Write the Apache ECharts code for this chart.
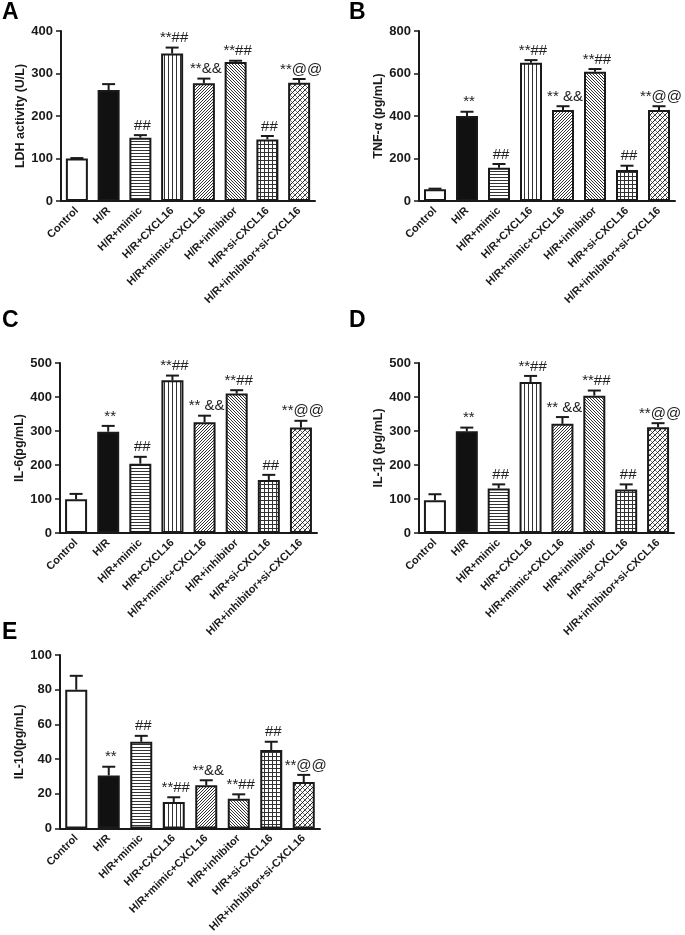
<!DOCTYPE html>
<html><head><meta charset="utf-8">
<script src="https://cdn.jsdelivr.net/npm/echarts@6/dist/echarts.min.js"></script>
<style>html,body{margin:0;padding:0;background:#fff}#c{width:685px;height:935px}</style>
</head><body><div id="c"></div>
<script>
const categories = ['Control','H/R','H/R+mimic','H/R+CXCL16','H/R+mimic+CXCL16','H/R+inhibitor','H/R+si-CXCL16','H/R+inhibitor+si-CXCL16'];

const ldhMean = [100, 261, 149, 347, 277, 327, 145, 278];
const ldhErr  = [1, 14, 6, 14, 11, 3, 8, 9];
const ldhMarks = ['', '', '##', '**##', '**&&', '**##', '##', '**@@'];

const tnfMean = [55, 400, 157, 651, 428, 608, 146, 428];
const tnfErr  = [3, 20, 17, 12, 18, 13, 20, 18];
const tnfMarks = ['', '**', '##', '**##', '** &&', '**##', '##', '**@@'];

const il6Mean = [99, 298, 204, 449, 326, 410, 156, 310];
const il6Err  = [16, 17, 20, 14, 19, 10, 15, 20];
const il6Marks = ['', '**', '##', '**##', '** &&', '**##', '##', '**@@'];

const il1bMean = [96, 299, 131, 444, 321, 404, 128, 311];
const il1bErr  = [18, 11, 12, 18, 20, 15, 15, 12];
const il1bMarks = ['', '**', '##', '**##', '** &&', '**##', '##', '**@@'];

const il10Mean = [80, 30.6, 50, 15.3, 24.9, 17.2, 45.2, 26.8];
const il10Err  = [8, 5, 3.4, 2.7, 2.9, 2.5, 4.8, 4.1];
const il10Marks = ['', '**', '##', '**##', '**&&', '**##', '##', '**@@'];

const panelNames = ['LDH activity (U/L)', 'TNF-\u03b1 (pg/mL)', 'IL-6(pg/mL)', 'IL-1\u03b2 (pg/mL)', 'IL-10(pg/mL)'];
const panelLetters = ['A', 'B', 'C', 'D', 'E'];
const yMax = [400, 800, 500, 500, 100];
const yInterval = [100, 200, 100, 100, 20];

const panels = [
  {mean: ldhMean, err: ldhErr, marks: ldhMarks},
  {mean: tnfMean, err: tnfErr, marks: tnfMarks},
  {mean: il6Mean, err: il6Err, marks: il6Marks},
  {mean: il1bMean, err: il1bErr, marks: il1bMarks},
  {mean: il10Mean, err: il10Err, marks: il10Marks}
];

// layout (pixels)
const grids = [
  {left: 61, top: 31, width: 254, height: 170},
  {left: 419, top: 31, width: 256, height: 170},
  {left: 60, top: 363, width: 257, height: 170},
  {left: 419, top: 363, width: 255, height: 170},
  {left: 60, top: 655, width: 260, height: 174}
];
const letterPos = [[2, 1], [349, 1], [2, 309], [349, 309], [2, 621]];

const FONT = "'Liberation Sans', Arial, sans-serif";
const INK = '#1a1a1a';

function pat(w, h, draw) {
  const c = document.createElement('canvas');
  c.width = w; c.height = h;
  const g = c.getContext('2d');
  g.fillStyle = '#fff'; g.fillRect(0, 0, w, h);
  draw(g);
  return {image: c, repeat: 'repeat'};
}
function px(g, pts, col) { g.fillStyle = col || '#333'; pts.forEach(p => g.fillRect(p[0], p[1], 1, 1)); }

const fills = [
  '#ffffff',
  '#111111',
  pat(4, 3, g => { g.fillStyle = '#333'; g.fillRect(0, 0, 4, 1); }),
  pat(4, 4, g => { g.fillStyle = '#333'; g.fillRect(0, 0, 1, 4); }),
  pat(3, 3, g => px(g, [[2,0],[1,1],[0,2]])),
  pat(3, 3, g => px(g, [[0,0],[1,1],[2,2]])),
  pat(4, 4, g => { g.fillStyle = '#333'; g.fillRect(0, 0, 4, 1); g.fillRect(0, 0, 1, 4); }),
  pat(5, 5, g => { px(g, [[4,0],[3,1],[2,2],[1,3],[0,4]], '#222'); px(g, [[0,0],[1,1],[3,3],[4,4]], '#777'); })
];

const option = {
  animation: false,
  backgroundColor: '#fff',
  textStyle: {fontFamily: FONT},
  grid: grids.map(g => Object.assign({containLabel: false}, g)),
  xAxis: grids.map((g, i) => ({
    type: 'category', gridIndex: i, data: categories,
    axisLine: {lineStyle: {color: INK, width: 2}},
    axisTick: {alignWithLabel: true, length: 5, lineStyle: {color: INK, width: 1.5}},
    axisLabel: {interval: 0, rotate: 45, margin: 8, fontSize: 11, fontWeight: 'bold', color: INK, fontFamily: FONT},
    splitLine: {show: false}
  })),
  yAxis: grids.map((g, i) => ({
    type: 'value', gridIndex: i, min: 0, max: yMax[i], interval: yInterval[i],
    name: panelNames[i], nameLocation: 'middle', nameGap: 34, nameRotate: 90,
    nameTextStyle: {fontSize: 12.5, fontWeight: 'bold', color: INK, fontFamily: FONT},
    axisLine: {show: true, lineStyle: {color: INK, width: 2}},
    axisTick: {show: true, length: 5, lineStyle: {color: INK, width: 1.5}},
    axisLabel: {margin: 8, fontSize: 13, fontWeight: 'bold', color: INK, fontFamily: FONT},
    splitLine: {show: false}
  })),
  graphic: letterPos.map((p, i) => ({
    type: 'text', left: p[0], top: p[1],
    style: {text: panelLetters[i], font: 'bold 23px ' + FONT, fill: '#000'}
  })),
  series: []
};

panels.forEach((p, i) => {
  option.series.push({
    type: 'bar', xAxisIndex: i, yAxisIndex: i, barWidth: 22,
    data: p.mean.map((v, k) => ({value: v, itemStyle: {color: fills[k], borderColor: INK, borderWidth: 2}})),
    z: 2
  });
  option.series.push({
    type: 'custom', xAxisIndex: i, yAxisIndex: i, z: 3,
    data: p.mean.map((v, k) => [k, v, p.err[k]]),
    renderItem: function (params, api) {
      const k = api.value(0), v = api.value(1), e = api.value(2);
      const a = api.coord([k, v]);
      const b = api.coord([k, v + e]);
      const label = p.marks[params.dataIndex];
      const ch = [
        {type: 'line', shape: {x1: a[0], y1: a[1], x2: b[0], y2: b[1]}, style: {stroke: INK, lineWidth: 2}},
        {type: 'line', shape: {x1: b[0] - 6.5, y1: b[1], x2: b[0] + 6.5, y2: b[1]}, style: {stroke: INK, lineWidth: 2}}
      ];
      if (label) {
        ch.push({type: 'text', x: b[0] + 2, y: b[1] - 2,
          style: {text: label, font: '15px ' + FONT, fill: '#222', align: 'center', verticalAlign: 'bottom'}});
      }
      return {type: 'group', children: ch};
    }
  });
});

const chart = echarts.init(document.getElementById('c'), null, {renderer: 'canvas'});
chart.setOption(option);
</script>
</body></html>
